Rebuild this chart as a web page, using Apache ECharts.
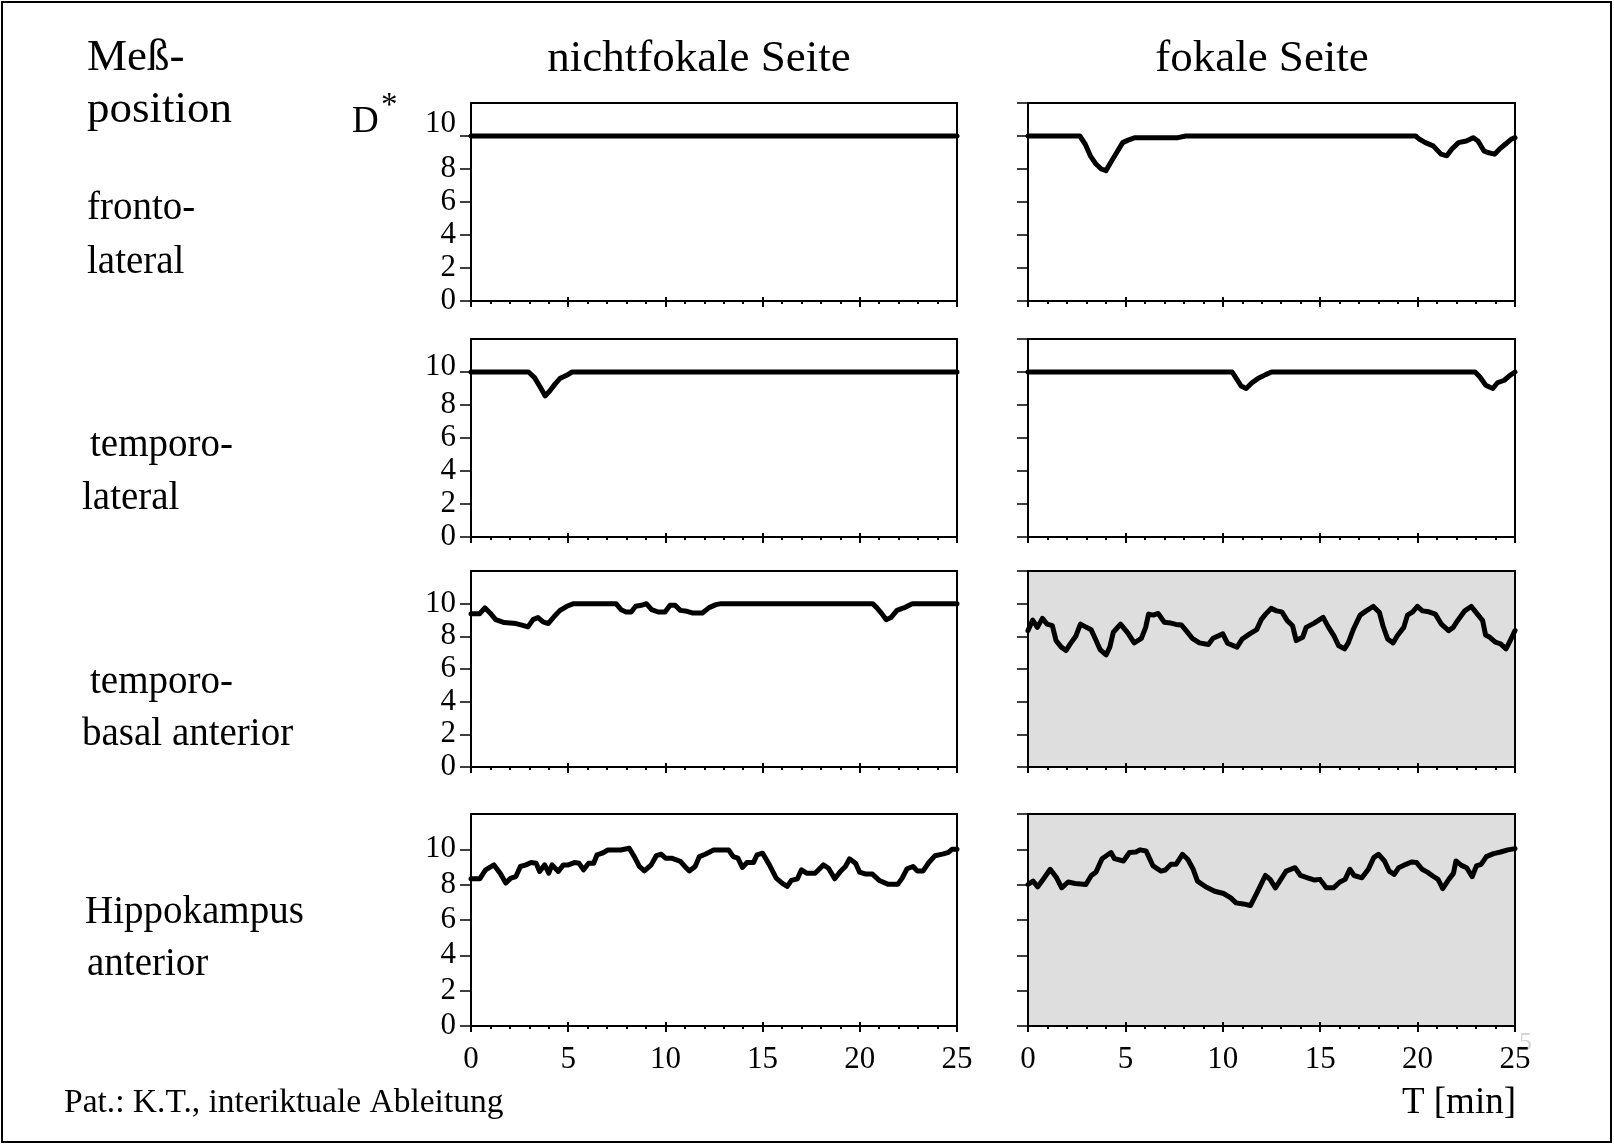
<!DOCTYPE html>
<html>
<head>
<meta charset="utf-8">
<script src="https://cdn.jsdelivr.net/npm/echarts@6/dist/echarts.min.js"></script>
<style>
  html, body { margin: 0; padding: 0; background: #fff; }
  #chart { width: 1614px; height: 1145px; }
</style>
</head>
<body>
<div id="chart"></div>
<script>
// Time axis (minutes) and D* axis ticks
const timeMax = 25;
const timeStep = 5;
const dMax = 12;
const dStep = 2;
const dLabelValues = [0, 2, 4, 6, 8, 10];
const dTickValuesFull = [0, 2, 4, 6, 8, 10, 12];

// Row and column captions
const columnTitles = ['nichtfokale Seite', 'fokale Seite'];
const rowTitles = [['fronto-', 'lateral'], ['temporo-', 'lateral'], ['temporo-', 'basal anterior'], ['Hippokampus', 'anterior']];

// D* over time [min, D*] — fronto-lateral
const frontoNonFocal = [[0, 10], [5, 10], [10, 10], [15, 10], [20, 10], [25, 10]];
const frontoFocal = [
  [0, 10], [2.66, 10], [2.94, 9.5], [3.2, 8.8], [3.49, 8.3], [3.76, 8.0], [4.0, 7.9], [4.2, 8.3],
  [4.5, 8.9], [4.86, 9.6], [5.14, 9.75], [5.5, 9.9], [7.7, 9.9], [8.1, 10], [19.9, 10], [20.1, 9.8],
  [20.4, 9.6], [20.8, 9.4], [21.2, 8.9], [21.5, 8.8], [21.75, 9.2], [22.1, 9.6], [22.5, 9.7],
  [22.85, 9.9], [23.1, 9.7], [23.4, 9.1], [23.6, 9.0], [23.95, 8.9], [24.2, 9.2], [24.5, 9.5],
  [24.8, 9.8], [25, 9.9]
];

// temporo-lateral
const temporoLatNonFocal = [
  [0, 10], [2.96, 10], [3.27, 9.66], [3.58, 9.05], [3.82, 8.55], [4.05, 8.85], [4.31, 9.25],
  [4.57, 9.6], [4.92, 9.8], [5.2, 10], [25, 10]
];
const temporoLatFocal = [
  [0, 10], [10.48, 10], [10.7, 9.6], [10.94, 9.15], [11.2, 9.0], [11.5, 9.35], [11.8, 9.6],
  [12.2, 9.84], [12.5, 10], [22.95, 10], [23.2, 9.7], [23.5, 9.2], [23.86, 9.0], [24.1, 9.35],
  [24.45, 9.5], [24.74, 9.8], [25, 10]
];

// temporo-basal anterior
const temporoBasNonFocal = [
  [0, 9.39], [0.45, 9.39], [0.71, 9.74], [0.98, 9.43], [1.27, 9.02], [1.71, 8.84], [2.32, 8.78],
  [2.67, 8.67], [2.93, 8.58], [3.19, 9.02], [3.45, 9.15], [3.71, 8.88], [3.97, 8.78], [4.29, 9.23],
  [4.58, 9.59], [4.93, 9.84], [5.28, 10], [7.46, 10], [7.72, 9.63], [7.98, 9.49], [8.24, 9.49],
  [8.47, 9.84], [8.76, 9.9], [9.02, 10], [9.29, 9.63], [9.63, 9.49], [9.98, 9.49], [10.24, 9.9],
  [10.5, 9.9], [10.77, 9.59], [11.11, 9.53], [11.38, 9.43], [11.9, 9.43], [12.25, 9.76],
  [12.6, 9.94], [12.86, 10], [20.66, 10], [20.87, 9.76], [21.13, 9.39], [21.36, 9.02],
  [21.6, 9.15], [21.91, 9.59], [22.26, 9.74], [22.7, 10], [25, 10]
];
const temporoBasFocal = [
  [0, 8.35], [0.24, 9.0], [0.48, 8.55], [0.74, 9.1], [0.98, 8.75], [1.25, 8.65], [1.44, 7.74],
  [1.71, 7.34], [1.95, 7.13], [2.17, 7.54], [2.45, 8.0], [2.69, 8.75], [3.0, 8.55], [3.24, 8.41],
  [3.46, 7.84], [3.7, 7.19], [4.01, 6.87], [4.2, 7.34], [4.38, 8.25], [4.75, 8.75], [5.12, 8.21],
  [5.45, 7.6], [5.82, 7.88], [6.04, 8.55], [6.19, 9.36], [6.44, 9.3], [6.68, 9.4], [7.0, 8.86],
  [7.33, 8.81], [7.6, 8.73], [7.88, 8.69], [8.16, 8.29], [8.43, 7.88], [8.8, 7.6], [9.26, 7.5],
  [9.5, 7.88], [10.0, 8.15], [10.24, 7.58], [10.73, 7.34], [11.0, 7.84], [11.38, 8.15],
  [11.74, 8.41], [11.97, 9.02], [12.2, 9.36], [12.48, 9.71], [12.76, 9.56], [13.03, 9.5],
  [13.31, 8.96], [13.58, 8.65], [13.77, 7.74], [14.1, 7.94], [14.28, 8.55], [14.69, 8.81],
  [15.15, 9.16], [15.43, 8.55], [15.7, 8.04], [15.94, 7.44], [16.25, 7.23], [16.44, 7.6],
  [16.71, 8.45], [17.05, 9.3], [17.36, 9.56], [17.73, 9.83], [18.04, 9.46], [18.22, 8.65],
  [18.46, 7.84], [18.74, 7.6], [18.96, 8.04], [19.29, 8.55], [19.48, 9.3], [19.75, 9.5],
  [19.99, 9.83], [20.25, 9.56], [20.58, 9.5], [20.91, 9.36], [21.22, 8.75], [21.59, 8.35],
  [21.83, 8.55], [22.05, 8.96], [22.42, 9.56], [22.75, 9.83], [23.07, 9.36], [23.34, 8.96],
  [23.49, 8.08], [23.71, 7.94], [23.99, 7.64], [24.26, 7.54], [24.54, 7.23], [24.78, 7.8],
  [25, 8.35]
];

// Hippokampus anterior
const hippoNonFocal = [
  [0, 8.33], [0.45, 8.33], [0.75, 8.84], [1.18, 9.12], [1.5, 8.65], [1.79, 8.09], [2.05, 8.37],
  [2.31, 8.46], [2.54, 9.03], [2.83, 9.12], [3.09, 9.25], [3.35, 9.21], [3.53, 8.75], [3.79, 9.12],
  [4.0, 8.65], [4.17, 9.12], [4.49, 8.75], [4.75, 9.12], [5.01, 9.12], [5.32, 9.25], [5.56, 9.21],
  [5.79, 8.84], [6.05, 9.21], [6.31, 9.21], [6.48, 9.68], [6.75, 9.78], [7.04, 9.96], [7.7, 9.96],
  [8.14, 10.06], [8.4, 9.59], [8.66, 9.03], [8.92, 8.78], [9.27, 9.12], [9.53, 9.64], [9.79, 9.72],
  [10.01, 9.5], [10.31, 9.5], [10.57, 9.4], [10.78, 9.31], [11.0, 9.03], [11.23, 8.78],
  [11.53, 9.03], [11.75, 9.59], [12.05, 9.72], [12.48, 9.96], [13.26, 9.96], [13.49, 9.59],
  [13.73, 9.5], [13.96, 8.97], [14.19, 9.25], [14.53, 9.25], [14.71, 9.68], [15.0, 9.78],
  [15.35, 9.12], [15.7, 8.37], [16.0, 8.09], [16.27, 7.9], [16.48, 8.24], [16.79, 8.33],
  [17.0, 8.84], [17.26, 8.65], [17.7, 8.65], [18.13, 9.12], [18.39, 8.93], [18.71, 8.33],
  [19.0, 8.75], [19.26, 9.03], [19.47, 9.46], [19.78, 9.21], [19.99, 8.71], [20.31, 8.6],
  [20.65, 8.6], [21.0, 8.24], [21.44, 8.03], [21.96, 8.03], [22.18, 8.37], [22.43, 8.9],
  [22.74, 9.03], [22.95, 8.78], [23.26, 8.78], [23.52, 9.21], [23.87, 9.64], [24.3, 9.74],
  [24.56, 9.83], [24.74, 10.0], [25, 10.0]
];
const hippoFocal = [
  [0, 8.01], [0.26, 8.2], [0.5, 7.88], [0.81, 8.35], [1.14, 8.87], [1.47, 8.39], [1.73, 7.82],
  [2.06, 8.15], [2.42, 8.07], [2.97, 8.01], [3.25, 8.52], [3.49, 8.71], [3.8, 9.47], [4.26, 9.82],
  [4.44, 9.47], [4.9, 9.34], [5.21, 9.82], [5.54, 9.85], [5.76, 9.97], [6.06, 9.91], [6.42, 9.06],
  [6.83, 8.77], [7.05, 8.83], [7.34, 9.15], [7.6, 9.15], [7.93, 9.72], [8.2, 9.44], [8.48, 8.87],
  [8.7, 8.2], [9.12, 7.88], [9.58, 7.63], [10.04, 7.5], [10.41, 7.25], [10.68, 6.97], [11.05, 6.91],
  [11.42, 6.82], [11.75, 7.54], [12.19, 8.52], [12.43, 8.3], [12.7, 7.82], [12.98, 8.3],
  [13.25, 8.77], [13.71, 8.96], [13.99, 8.52], [14.35, 8.39], [14.72, 8.26], [14.99, 8.3],
  [15.31, 7.82], [15.68, 7.82], [16.01, 8.15], [16.28, 8.3], [16.52, 8.87], [16.74, 8.52],
  [17.14, 8.39], [17.47, 8.87], [17.75, 9.53], [17.99, 9.72], [18.3, 9.34], [18.54, 8.77],
  [18.8, 8.58], [19.03, 8.96], [19.4, 9.15], [19.68, 9.28], [19.95, 9.25], [20.23, 8.87],
  [20.5, 8.71], [20.78, 8.49], [21.05, 8.3], [21.29, 7.77], [21.6, 8.3], [21.84, 8.64],
  [21.97, 9.34], [22.25, 9.09], [22.52, 8.96], [22.8, 8.45], [23.02, 9.06], [23.26, 9.15],
  [23.53, 9.59], [23.9, 9.76], [24.26, 9.85], [24.63, 9.97], [25, 10.04]
];

const seriesByRow = [
  [frontoNonFocal, frontoFocal],
  [temporoLatNonFocal, temporoLatFocal],
  [temporoBasNonFocal, temporoBasFocal],
  [hippoNonFocal, hippoFocal]
];
// panels drawn on a shaded background (focal side, lower two rows)
const shaded = [[false, false], [false, false], [false, true], [false, true]];

// Panel layout in pixels
const colLeft = [471, 1028];
const colWidth = [486, 487];
const rowTop = [103, 339, 571, 814];
const rowHeight = [198, 198, 196, 212];
// the "10" label sits a little above its tick in the upper rows
const topLabelLift = [12, 5, 0, 0];

const FONT = '"Liberation Serif", "Times New Roman", serif';
const INK = '#000';
const TICK_FONT = 31;

const grids = [], xAxes = [], yAxes = [], series = [];
let g = 0;
for (let r = 0; r < 4; r++) {
  for (let c = 0; c < 2; c++) {
    grids.push({
      left: colLeft[c], top: rowTop[r], width: colWidth[c], height: rowHeight[r],
      show: true, borderColor: INK, borderWidth: 2,
      backgroundColor: shaded[r][c] ? '#dedede' : 'transparent'
    });
    const isBottom = r === 3;
    // main time axis: outer ticks, minor ticks, labels on the bottom row
    xAxes.push({
      type: 'value', gridIndex: g, min: 0, max: timeMax, interval: timeStep,
      position: 'bottom', offset: 0,
      axisLine: { show: true, onZero: false, lineStyle: { color: INK, width: 2 } },
      axisTick: { show: true, inside: false, length: 6, lineStyle: { color: INK, width: 2 } },
      minorTick: { show: true, splitNumber: 5, length: 3, lineStyle: { color: INK, width: 2 } },
      splitLine: { show: false },
      minorSplitLine: { show: false },
      axisLabel: { show: isBottom, margin: 18, color: INK, fontFamily: FONT, fontSize: TICK_FONT }
    });
    // companion axis: major ticks reaching into the panel
    xAxes.push({
      type: 'value', gridIndex: g, min: 0, max: timeMax, interval: timeStep,
      position: 'bottom', offset: 0,
      axisLine: { show: false },
      axisTick: { show: true, inside: true, length: 4, lineStyle: { color: INK, width: 2 } },
      splitLine: { show: false },
      axisLabel: { show: false }
    });
    const lift = topLabelLift[r];
    yAxes.push({
      type: 'value', gridIndex: g, min: 0, max: dMax, interval: dStep,
      axisLine: { show: true, onZero: false, lineStyle: { color: INK, width: 2 } },
      axisTick: {
        show: true, inside: false, length: 11,
        customValues: c === 0 ? dLabelValues : dTickValuesFull,
        lineStyle: { color: INK, width: 1.5 }
      },
      splitLine: { show: false },
      axisLabel: {
        show: c === 0, margin: 15, color: INK, fontFamily: FONT, fontSize: TICK_FONT,
        customValues: dLabelValues,
        formatter: v => (v > 10 ? '' : (v === 10 && lift > 0 ? '{up|10}' : String(v))),
        rich: {
          up: { color: INK, fontFamily: FONT, fontSize: TICK_FONT, padding: [0, 0, 2 * lift, 0] }
        }
      }
    });
    series.push({
      type: 'line', xAxisIndex: 2 * g, yAxisIndex: g,
      data: seriesByRow[r][c],
      showSymbol: false, symbol: 'none', smooth: false, animation: false,
      lineStyle: { color: INK, width: 5, cap: 'round', join: 'round' },
      clip: false
    });
    g++;
  }
}

// Captions and annotations
const txt = (text, x, y, size, align, color, z) => ({
  type: 'text', x: x, y: y, silent: true, z: z || 10,
  style: {
    text: text, fill: color || INK, fontFamily: FONT, fontSize: size,
    align: align || 'left', verticalAlign: 'middle'
  }
});
const rowLabelPos = [
  [[87, 209], [87, 263]],
  [[90, 446], [82, 499]],
  [[90, 683], [82, 735]],
  [[85, 913], [87, 965]]
];
const graphics = [
  { type: 'rect', shape: { x: 2, y: 2, width: 1609, height: 1140 }, style: { fill: 'none', stroke: INK, lineWidth: 2 }, silent: true },
  txt('Meß-', 87, 58, 45),
  txt('position', 87, 110, 45),
  txt(columnTitles[0], 699, 59, 45, 'center'),
  txt(columnTitles[1], 1262, 59, 45, 'center'),
  txt('D', 352, 122, 37),
  txt('*', 381, 106, 33),
  txt('Pat.: K.T., interiktuale Ableitung', 64, 1103, 33.5),
  txt('T [min]', 1516, 1103, 37, 'right'),
  txt('5', 1519, 1043, 26, 'left', '#d4d4d4', -10)
];
rowTitles.forEach((lines, r) => {
  lines.forEach((line, i) => {
    graphics.push(txt(line, rowLabelPos[r][i][0], rowLabelPos[r][i][1], 39));
  });
});

const chart = echarts.init(document.getElementById('chart'), null, { renderer: 'canvas' });
chart.setOption({
  backgroundColor: '#fff',
  animation: false,
  grid: grids,
  xAxis: xAxes,
  yAxis: yAxes,
  series: series,
  graphic: graphics
});
</script>
</body>
</html>
